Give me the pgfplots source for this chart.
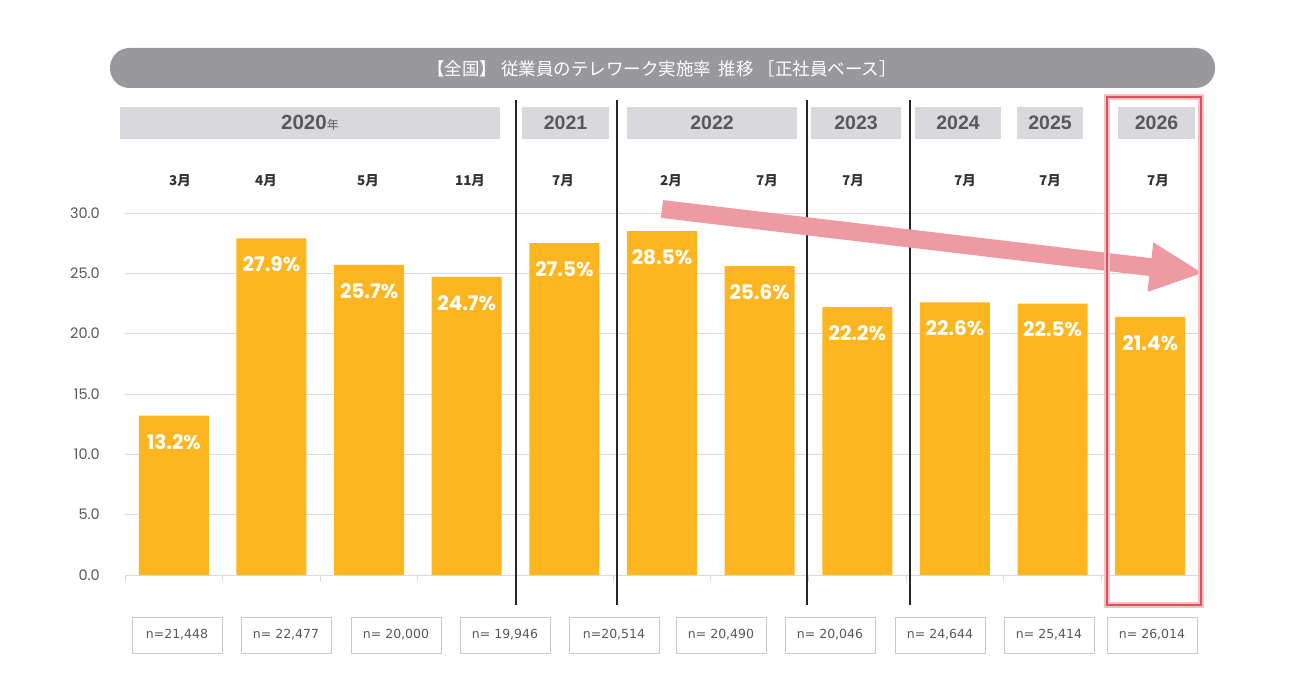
\documentclass[border=0pt]{standalone}
\usepackage{fontspec}
\setmainfont{Noto Sans CJK JP}
\newfontfamily\pop{Poppins}
\newfontfamily\jp{Noto Sans CJK JP}
\newfontfamily\dv{DejaVu Sans}
\newfontfamily\lib{Liberation Sans}
\usepackage{pgfplots}
\pgfplotsset{compat=1.18}
\definecolor{barc}{HTML}{FDB620}
\definecolor{titleg}{HTML}{99989D}
\definecolor{yearg}{HTML}{D9D8DC}
\definecolor{txtg}{HTML}{595959}
\definecolor{gridg}{HTML}{DADADA}
\definecolor{boxg}{HTML}{C8C8C8}
\definecolor{arrowc}{HTML}{EE9AA2}
\definecolor{redc}{HTML}{E0505A}
\pgfplotstableread{
x y
0 13.2
1 27.9
2 25.7
3 24.7
4 27.5
5 28.5
6 25.6
7 22.2
8 22.6
9 22.5
10 21.4
}\rates
\begin{document}
\begin{tikzpicture}
\fill[white] (0pt,0pt) rectangle (1314pt,-695pt);
\begin{scope}[x=1pt,y=-1pt]
% title bar
\fill[titleg, rounded corners=19.5pt] (110,48) rectangle (1215,88);
\node[text=white, font=\jp\fontsize{17.5}{17.5}\selectfont] at (662,69) {【全国】 従業員のテレワーク実施率\ \ 推移 ［正社員ベース］};
% year boxes
\foreach \a/\b in {120/500, 522/609, 627/797, 811/901, 915/1001, 1017/1083, 1118/1195}{
  \fill[yearg] (\a,107) rectangle (\b,139);
}
\node[text=txtg, font=\lib\bfseries\fontsize{20.5}{20.5}\selectfont] at (310,123) {2020\jp\mdseries\fontsize{12}{12}\selectfont 年};
\foreach \c/\t in {565.5/2021, 712/2022, 856/2023, 958/2024, 1050/2025, 1156.5/2026}{
  \node[text=txtg, font=\lib\bfseries\fontsize{19.5}{19.5}\selectfont] at (\c,123) {\t};
}
% months
\foreach \c/\t in {180/3月, 266/4月, 368/5月, 470/11月, 563/7月, 671/2月, 767/7月, 853/7月, 965/7月, 1050/7月, 1158/7月}{
  \node[text=black!80, font=\jp\bfseries\fontsize{13.5}{13.5}\selectfont] at (\c,181) {\t};
}
% n boxes
\foreach \a/\t in {132/{n=21,448}, 241/{n= 22,477}, 351/{n= 20,000}, 460/{n= 19,946}, 569/{n=20,514}, 676/{n= 20,490}, 785/{n= 20,046}, 895/{n= 24,644}, 1004/{n= 25,414}, 1107/{n= 26,014}}{
  \draw[boxg, line width=0.9pt, fill=white] (\a,617) rectangle ++(90,36);
  \node[text=txtg, font=\dv\fontsize{12.5}{12.5}\selectfont] at (\a+45,635) {\t};
}
\end{scope}
\begin{axis}[
  at={(125pt,-575pt)}, anchor=south west,
  scale only axis, width=1074pt, height=362pt,
  xmin=-0.5, xmax=10.5, ymin=0, ymax=30,
  axis line style={draw=none},
  ytick={0,5,...,30},
  ymajorgrids, grid style={gridg, line width=0.9pt},
  y tick style={draw=none},
  yticklabel style={font=\pop\fontsize{14.5}{14.5}\selectfont, text=txtg, inner sep=0pt, xshift=-19pt},
  y tick label style={/pgf/number format/.cd, fixed, fixed zerofill, precision=1, assume math mode=true},
  xtick={-0.5,0.5,...,10.5}, xticklabels={},
  xtick pos=bottom, x tick style={gridg, line width=0.9pt}, tick align=outside, major tick length=6pt,
  clip=false,
]
\addplot[ybar, bar width=70pt, fill=barc, draw=none,
  nodes near coords={\pgfmathprintnumber[fixed,fixed zerofill,precision=1,assume math mode=true]{\pgfplotspointmeta}\%},
  nodes near coords style={anchor=center, yshift=-26pt, text=white, font=\pop\bfseries\fontsize{20}{20}\selectfont},
] table[x=x,y=y] {\rates};
\end{axis}
\begin{scope}[x=1pt,y=-1pt]
% separators
\foreach \xx in {516,617,807,910}{
  \draw[black!85, line width=1.1pt] (\xx,100) -- (\xx,605);
}
% arrow
\fill[arrowc] (663.1,200.1) -- (1151.5,258.2) -- (1153.3,242.3) -- (1202,273) -- (1147.5,291.9) -- (1149.3,276.0) -- (660.9,217.9) -- cycle;
% highlight
\draw[redc!35, line width=6pt] (1107,97) rectangle (1201,605);
\draw[redc, line width=2.2pt] (1107,97) rectangle (1201,605);
\end{scope}
\end{tikzpicture}
\end{document}
